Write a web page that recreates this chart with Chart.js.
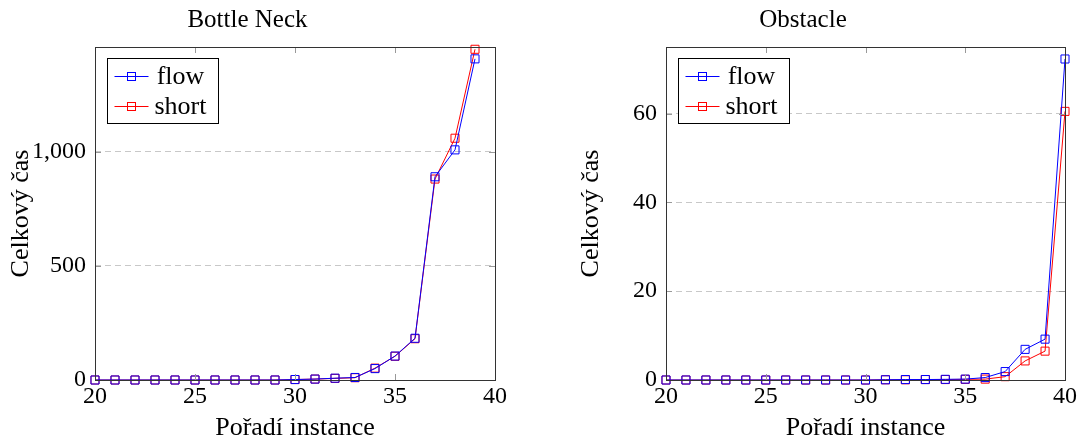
<!DOCTYPE html>
<html>
<head>
<meta charset="utf-8">
<script src="https://cdn.jsdelivr.net/npm/chart.js@4.4.0/dist/chart.umd.min.js"></script>
<style>
  body { margin: 0; background: #fff; }
  .box { position: absolute; top: 0; width: 541px; height: 441px; }
</style>
</head>
<body>
<div class="box" style="left:0"><canvas id="bottle"></canvas></div>
<div class="box" style="left:541px"><canvas id="obstacle"></canvas></div>
<script>
// data
const bottleX = [20, 21, 22, 23, 24, 25, 26, 27, 28, 29, 30, 31, 32, 33, 34, 35, 36, 37, 38, 39];
const bottleFlow = [0, 0, 0, 0, 0, 0, 0, 0, 0, 0, 2, 4, 8, 11, 50, 105, 183, 891, 1009, 1408];
const bottleShort = [0, 0, 0, 0, 0, 0, 0, 0, 0, 0, 2, 4, 7, 10, 52, 104, 181, 881, 1060, 1450];

const obstacleX = [20, 21, 22, 23, 24, 25, 26, 27, 28, 29, 30, 31, 32, 33, 34, 35, 36, 37, 38, 39, 40];
const obstacleFlow = [0, 0, 0, 0, 0, 0, 0, 0, 0, 0, 0, 0.05, 0.1, 0.1, 0.15, 0.2, 0.55, 1.9, 6.9, 9.2, 72.3];
const obstacleShort = [0, 0, 0, 0, 0, 0, 0, 0, 0, 0, 0, 0.05, 0.05, 0.1, 0.1, 0.15, 0.2, 0.75, 4.3, 6.5, 60.5];

const xTicks = [20, 25, 30, 35, 40];
const bottleYTicks = [0, 500, 1000];
const obstacleYTicks = [0, 20, 40, 60];

const FONT = "'Liberation Serif', 'DejaVu Serif', serif";

// frame, inner tick marks and the legend box, pgfplots style
const framePlugin = {
  id: 'frame',
  afterDraw(chart) {
    const {ctx, chartArea: a, scales} = chart;
    ctx.save();
    ctx.strokeStyle = '#999999';
    ctx.lineWidth = 1;
    ctx.beginPath();
    xTicks.forEach(v => {
      const px = Math.round(scales.x.getPixelForValue(v)) + 0.5;
      ctx.moveTo(px, a.top); ctx.lineTo(px, a.top + 6);
      ctx.moveTo(px, a.bottom); ctx.lineTo(px, a.bottom - 6);
    });
    scales.y.ticks.forEach(t => {
      const py = Math.round(scales.y.getPixelForValue(t.value)) + 0.5;
      ctx.moveTo(a.left, py); ctx.lineTo(a.left + 6, py);
      ctx.moveTo(a.right, py); ctx.lineTo(a.right - 6, py);
    });
    ctx.stroke();

    ctx.strokeStyle = '#333333';
    ctx.strokeRect(Math.round(a.left) + 0.5, Math.round(a.top) + 0.5,
      Math.round(a.right - a.left), Math.round(a.bottom - a.top));

    // legend
    const lx = Math.round(a.left) + 12.5, ly = 58.5;
    ctx.fillStyle = '#fff';
    ctx.fillRect(lx, ly, 111, 65);
    ctx.strokeStyle = '#000';
    ctx.strokeRect(lx, ly, 111, 65);
    ctx.font = '26px ' + FONT;
    ctx.textAlign = 'center';
    ctx.textBaseline = 'middle';
    chart.data.datasets.forEach((ds, i) => {
      const y = ly + 18 + i * 30;
      ctx.strokeStyle = ds.borderColor;
      ctx.beginPath();
      ctx.moveTo(lx + 7, y); ctx.lineTo(lx + 41, y);
      ctx.stroke();
      ctx.strokeRect(lx + 20, y - 4, 8, 8);
      ctx.fillStyle = '#000';
      ctx.fillText(ds.label, lx + 73, y + 1);
    });
    ctx.restore();
  }
};

function makeChart(id, title, xs, flow, short, yMax, yTicks, yWidth, padRight, yTitlePad) {
  const toPts = arr => arr.map((v, i) => ({x: xs[i], y: v}));
  return new Chart(document.getElementById(id), {
    type: 'line',
    data: {
      datasets: [
        { label: 'flow', data: toPts(flow), borderColor: '#0000ff', borderWidth: 1,
          pointStyle: 'rect', pointRadius: 5.7, pointBorderWidth: 1, clip: false,
          pointBackgroundColor: 'rgba(0,0,0,0)', pointBorderColor: '#0000ff', tension: 0 },
        { label: 'short', data: toPts(short), borderColor: '#ff0000', borderWidth: 1,
          pointStyle: 'rect', pointRadius: 5.7, pointBorderWidth: 1, clip: false,
          pointBackgroundColor: 'rgba(0,0,0,0)', pointBorderColor: '#ff0000', tension: 0 }
      ]
    },
    options: {
      responsive: false,
      animation: false,
      layout: { padding: { left: 0, right: padRight, top: 0, bottom: 0 } },
      plugins: {
        legend: { display: false },
        tooltip: { enabled: false },
        title: {
          display: true, text: title, color: '#000',
          font: { family: FONT, size: 25, weight: 'normal', lineHeight: 1.2 },
          padding: { top: 5, bottom: 12 }
        }
      },
      scales: {
        x: {
          type: 'linear', min: 20, max: 40,
          afterBuildTicks: s => { s.ticks = xTicks.map(v => ({value: v})); },
          afterFit: s => { s.height = 61; },
          grid: { display: false, drawTicks: false },
          border: { display: false },
          ticks: { color: '#000', padding: 2, maxRotation: 0,
            font: { family: FONT, size: 24 } },
          title: { display: true, text: 'Pořadí instance', color: '#000',
            font: { family: FONT, size: 26, lineHeight: 1 }, padding: { top: 0, bottom: 0 } }
        },
        y: {
          type: 'linear', min: 0, max: yMax,
          afterBuildTicks: s => { s.ticks = yTicks.map(v => ({value: v})); },
          afterFit: s => { s.width = yWidth; },
          grid: { color: '#c8c8c8', drawTicks: false },
          border: { display: false, dash: [6, 4] },
          ticks: { color: '#000', padding: 9,
            font: { family: FONT, size: 24 },
            callback: v => v.toLocaleString('en-US') },
          title: { display: true, text: 'Celkový čas', color: '#000',
            font: { family: FONT, size: 26, lineHeight: 1.2 }, padding: { top: yTitlePad, bottom: 0 } }
        }
      }
    },
    plugins: [framePlugin]
  });
}

function sizeCanvas(id) {
  const c = document.getElementById(id);
  c.width = 541; c.height = 441;
  c.style.width = '541px'; c.style.height = '441px';
}
sizeCanvas('bottle');
sizeCanvas('obstacle');

makeChart('bottle', 'Bottle Neck', bottleX, bottleFlow, bottleShort, 1460, bottleYTicks, 95, 46, 6);
makeChart('obstacle', 'Obstacle', obstacleX, obstacleFlow, obstacleShort, 75, obstacleYTicks, 125, 17, 35);
</script>
</body>
</html>
